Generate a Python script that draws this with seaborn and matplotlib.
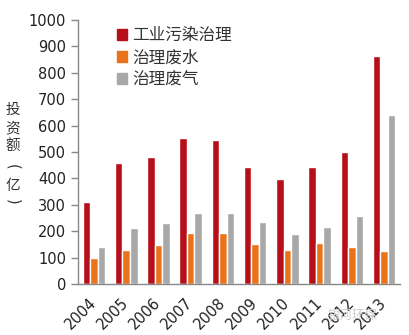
import matplotlib
matplotlib.use("Agg")
import matplotlib.pyplot as plt
import seaborn as sns
import pandas as pd
from matplotlib.patches import Patch

years = ["2004", "2005", "2006", "2007", "2008", "2009", "2010", "2011", "2012", "2013"]
industrial = [310, 460, 483, 553, 545, 445, 398, 445, 502, 865]
wastewater = [100, 130, 148, 195, 195, 150, 128, 155, 140, 125]
wastegas = [140, 213, 233, 268, 268, 235, 190, 215, 258, 640]
series_names = ["工业污染治理", "治理废水", "治理废气"]
colors = ["#B70F1A", "#E8731A", "#A8A8A8"]

df = pd.DataFrame({
    "year": years * 3,
    "value": industrial + wastewater + wastegas,
    "series": [series_names[0]] * 10 + [series_names[1]] * 10 + [series_names[2]] * 10,
})

sns.set_style("white")
plt.rcParams["font.family"] = ["Noto Sans CJK SC", "DejaVu Sans"]

fig = plt.figure(figsize=(4.1, 3.35), dpi=100)
ax = fig.add_axes([0.19, 0.152, 0.786, 0.788])
sns.barplot(data=df, x="year", y="value", hue="series", palette=colors,
            width=0.7, ax=ax, legend=False, saturation=1)

ax.set_ylim(0, 1000)
ax.set_xlim(-0.5, 9.5)
ax.set_yticks(range(0, 1001, 100))
ax.set_yticklabels([str(v) for v in range(0, 1001, 100)], fontsize=10.5,
                   family=["DejaVu Sans"], color="#222222")
ax.set_xticks(range(10))
ax.set_xticklabels(years, rotation=45, fontsize=10.5, family=["DejaVu Sans"],
                   ha="right", va="center", rotation_mode="anchor", color="#222222")
ax.tick_params(axis="x", which="major", length=0, pad=12)
ax.set_xticks([i - 0.5 for i in range(11)], minor=True)
ax.tick_params(axis="x", which="minor", length=5, width=1, color="#888888", direction="out")
ax.tick_params(axis="y", length=5, width=1, color="#888888", direction="out", left=True)
ax.set_xlabel("")
ax.set_ylabel("")
for s in ["top", "right"]:
    ax.spines[s].set_visible(False)
for s in ["left", "bottom"]:
    ax.spines[s].set_color("#888888")
    ax.spines[s].set_linewidth(1)

handles = [Patch(facecolor=c, edgecolor=c) for c in colors]
ax.legend(handles, series_names, loc="upper left", bbox_to_anchor=(0.09, 1.01),
          frameon=False, fontsize=12, handlelength=0.6, handleheight=0.6,
          handletextpad=0.3, labelspacing=0.3, borderaxespad=0.2,
          labelcolor="#333333")

# vertical y-axis label, one character per line
ylabel_chars = ["投", "资", "额", "(", "亿", ")"]
ylabel_y = [110, 128, 146, 167, 186, 202]
ylabel_rot = [0, 0, 0, -90, 0, -90]
for ch, yy, rot in zip(ylabel_chars, ylabel_y, ylabel_rot):
    fig.text(13 / 410, 1 - yy / 335, ch, fontsize=10.5, ha="center", va="center",
             rotation=rot, rotation_mode="anchor", color="#333333",
             family=["DejaVu Sans"] if rot else ["Noto Sans CJK SC", "DejaVu Sans"])

fig.text(0.86, 0.06, "银河环保", fontsize=9, color="#cccccc", ha="center", va="center")

fig.savefig("out.png", dpi=100)
